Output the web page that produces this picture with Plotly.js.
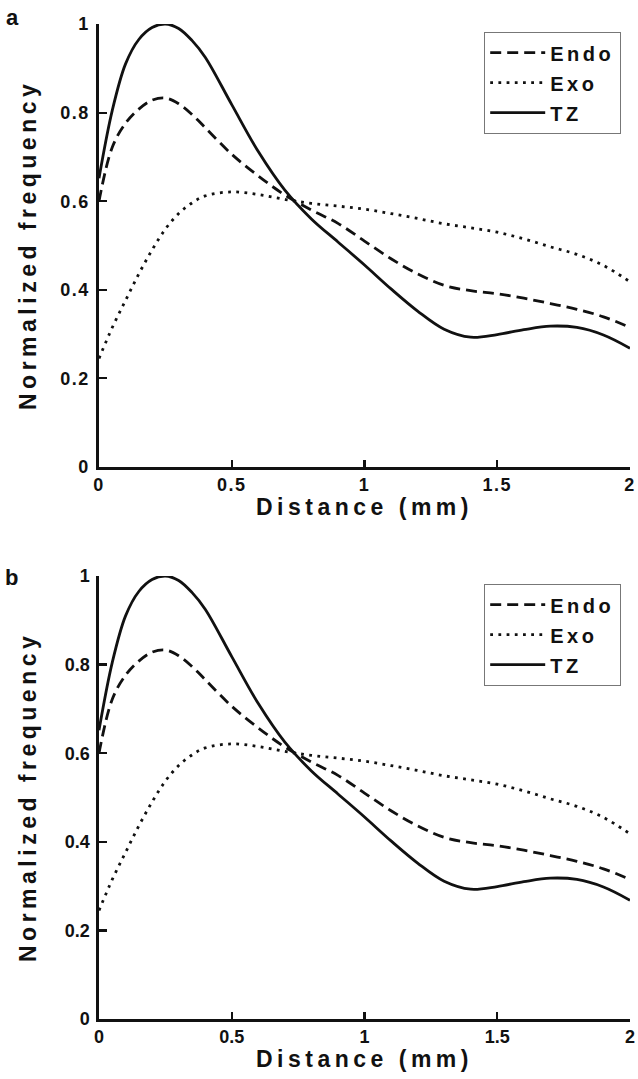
<!DOCTYPE html>
<html>
<head>
<meta charset="utf-8">
<script src="https://cdn.plot.ly/plotly-3.0.1.min.js"></script>
<style>
  html, body { margin: 0; padding: 0; background: #fff; }
  #chart { width: 638px; height: 1079px; }
  .legendtext { letter-spacing: 3.5px; }
  .annotation-text { letter-spacing: 4.5px; }
  .ytick text, .xtick text { letter-spacing: 1.5px; }
</style>
</head>
<body>
<div id="chart"></div>
<script>
// Distance (mm)
const distance = [0, 0.05, 0.1, 0.15, 0.2, 0.25, 0.3, 0.35, 0.4, 0.5, 0.6, 0.7, 0.8, 0.9, 1.0, 1.1, 1.2, 1.3, 1.4, 1.5, 1.6, 1.7, 1.8, 1.9, 2.0];
// Normalized frequency, panel a
const endoA = [0.60, 0.722, 0.776, 0.808, 0.828, 0.833, 0.820, 0.796, 0.766, 0.706, 0.657, 0.614, 0.580, 0.550, 0.510, 0.470, 0.436, 0.410, 0.398, 0.391, 0.381, 0.369, 0.356, 0.339, 0.315];
const exoA  = [0.245, 0.315, 0.376, 0.436, 0.490, 0.537, 0.572, 0.596, 0.612, 0.621, 0.615, 0.604, 0.595, 0.589, 0.582, 0.572, 0.561, 0.549, 0.540, 0.530, 0.515, 0.497, 0.480, 0.455, 0.418];
const tzA   = [0.652, 0.805, 0.910, 0.965, 0.992, 1.000, 0.990, 0.963, 0.925, 0.818, 0.712, 0.625, 0.560, 0.508, 0.456, 0.402, 0.352, 0.311, 0.293, 0.299, 0.310, 0.318, 0.315, 0.298, 0.268];
// Panel b (same curves as panel a)
const endoB = endoA.slice();
const exoB  = exoA.slice();
const tzB   = tzA.slice();

const seriesNames = ['Endo', 'Exo', 'TZ'];
const xTicks = [0, 0.5, 1, 1.5, 2];
const xTickText = ['0', '0.5', '1', '1.5', '2'];
const yTicks = [0, 0.2, 0.4, 0.6, 0.8, 1];
const yTickText = ['0', '0.2', '0.4', '0.6', '0.8', '1'];
const xTitle = 'Distance (mm)';
const yTitle = 'Normalized frequency';
const panelLabels = ['a', 'b'];

const FONT = 'Liberation Sans, Arial, Helvetica, sans-serif';
const INK = '#111';
const W = 638, H = 1079;
const L = 99, R = 8;
const plotW = W - L - R;
function px(x) { return (x - L) / plotW; }
function py(y) { return 1 - y / H; }

const styles = {
  Endo: { dash: '11px,6px', width: 2.8 },
  Exo:  { dash: '2.8px,5.4px', width: 2.8 },
  TZ:   { dash: 'solid', width: 2.8 }
};

function mk(name, y, xa, ya, leg, grp) {
  return {
    x: distance, y: y, xaxis: xa, yaxis: ya, name: name, legend: leg, legendgroup: grp,
    type: 'scatter', mode: 'lines',
    line: { color: INK, width: styles[name].width, dash: styles[name].dash, shape: 'spline', smoothing: 1 },
    hoverinfo: 'skip'
  };
}

const traces = [
  mk(seriesNames[0], endoA, 'x', 'y', 'legend', 'a1'),
  mk(seriesNames[1], exoA, 'x', 'y', 'legend', 'a2'),
  mk(seriesNames[2], tzA, 'x', 'y', 'legend', 'a3'),
  mk(seriesNames[0], endoB, 'x2', 'y2', 'legend2', 'b1'),
  mk(seriesNames[1], exoB, 'x2', 'y2', 'legend2', 'b2'),
  mk(seriesNames[2], tzB, 'x2', 'y2', 'legend2', 'b3')
];

const tickFont = { family: FONT, size: 18, color: INK, weight: 'bold' };

function xAxis(anchor) {
  return {
    domain: [0, 1], anchor: anchor, range: [0, 2], fixedrange: true,
    showgrid: false, zeroline: false, showline: true, linecolor: INK, linewidth: 2.6,
    ticks: 'inside', ticklen: 7, tickwidth: 2.2, tickcolor: INK,
    tickmode: 'array', tickvals: xTicks, ticktext: xTickText,
    tickfont: tickFont, ticklabelstandoff: 0
  };
}
function yAxis(anchor, dom) {
  return {
    domain: dom, anchor: anchor, range: [0, 1], fixedrange: true,
    showgrid: false, zeroline: false, showline: true, linecolor: INK, linewidth: 2.6,
    ticks: 'inside', ticklen: 8, tickwidth: 2.2, tickcolor: INK,
    tickmode: 'array', tickvals: yTicks, ticktext: yTickText,
    tickfont: tickFont, ticklabelstandoff: 3
  };
}

const legendStyle = {
  font: { family: FONT, size: 20, color: INK, weight: 'bold' },
  bgcolor: '#fff', bordercolor: '#777', borderwidth: 1.2,
  xanchor: 'right', yanchor: 'top', itemclick: false, itemdoubleclick: false,
  tracegroupgap: 1, itemwidth: 55
};

const annFont = { family: FONT, size: 23, color: INK, weight: 'bold' };
const letterFont = { family: FONT, size: 22, color: INK, weight: 'bold' };

const layout = {
  width: W, height: H,
  margin: { l: L, r: R, t: 0, b: 0, pad: 0 },
  paper_bgcolor: '#fff', plot_bgcolor: '#fff',
  showlegend: true,
  xaxis: xAxis('y'),
  yaxis: yAxis('x', [py(467), py(24)]),
  xaxis2: xAxis('y2'),
  yaxis2: yAxis('x2', [py(1019), py(576)]),
  legend: Object.assign({ x: px(621), y: py(32) }, legendStyle),
  legend2: Object.assign({ x: px(621), y: py(584) }, legendStyle),
  annotations: [
    { text: yTitle, xref: 'paper', yref: 'paper', x: px(28), y: py(245), textangle: -90, showarrow: false, xanchor: 'center', yanchor: 'middle', font: annFont },
    { text: yTitle, xref: 'paper', yref: 'paper', x: px(28), y: py(797), textangle: -90, showarrow: false, xanchor: 'center', yanchor: 'middle', font: annFont },
    { text: xTitle, xref: 'paper', yref: 'paper', x: 0.5, y: py(507), showarrow: false, xanchor: 'center', yanchor: 'middle', font: annFont },
    { text: xTitle, xref: 'paper', yref: 'paper', x: 0.5, y: py(1059), showarrow: false, xanchor: 'center', yanchor: 'middle', font: annFont },
    { text: panelLabels[0], xref: 'paper', yref: 'paper', x: px(14), y: py(18), showarrow: false, xanchor: 'center', yanchor: 'middle', font: letterFont },
    { text: panelLabels[1], xref: 'paper', yref: 'paper', x: px(14), y: py(577), showarrow: false, xanchor: 'center', yanchor: 'middle', font: letterFont }
  ]
};

function spaceLegendText() {
  document.querySelectorAll('#chart text').forEach(function (t) {
    if (seriesNames.indexOf(t.textContent.trim()) >= 0) {
      t.style.letterSpacing = '3.5px';
      t.setAttribute('letter-spacing', '3.5px');
    }
  });
}

Plotly.newPlot('chart', traces, layout, { staticPlot: true, displayModeBar: false }).then(function () {
  spaceLegendText();
  requestAnimationFrame(spaceLegendText);
  setTimeout(spaceLegendText, 50);
  setTimeout(spaceLegendText, 300);
});
</script>
</body>
</html>
